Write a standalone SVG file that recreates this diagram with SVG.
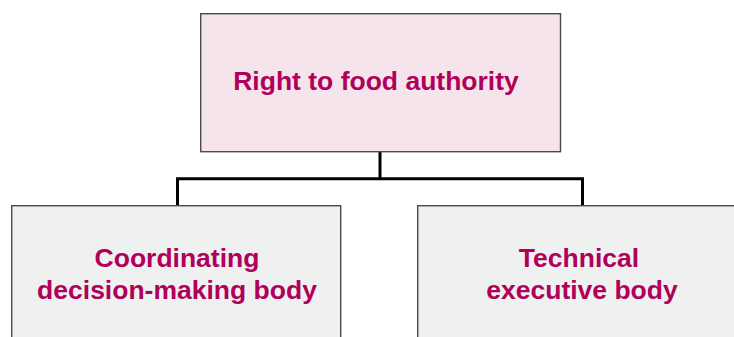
<svg xmlns="http://www.w3.org/2000/svg" width="734" height="337" viewBox="0 0 734 337">
<style>
.box{stroke:#4a4a4a;stroke-width:1.4}
.t{font-family:"Liberation Sans",Arial,sans-serif;font-weight:bold;fill:#b0005a;text-anchor:middle}
.c{fill:none;stroke:#000;stroke-width:3;stroke-linejoin:miter}
</style>
<rect width="734" height="337" fill="#fff"/>
<g id="connectors">
<path class="c" d="M380 152 V178.8 M177.5 206 V178.8 H582.5 V206"/>
</g>
<g id="authority">
<rect class="box" x="200.7" y="13.7" width="359.8" height="138" fill="#f6e4ec"/>
<text class="t" x="376" y="90" font-size="26.5">Right to food authority</text>
</g>
<g id="coordinating">
<rect class="box" x="11.7" y="205.7" width="329" height="140" fill="#eff0f0"/>
<text class="t" x="177" y="267" font-size="26.5">Coordinating</text>
<text class="t" x="177" y="299" font-size="26.5">decision-making body</text>
</g>
<g id="technical">
<rect class="box" x="417.7" y="205.7" width="330" height="140" fill="#eff0f0"/>
<text class="t" x="579" y="267" font-size="26.5">Technical</text>
<text class="t" x="582" y="299" font-size="26.5">executive body</text>
</g>
</svg>
